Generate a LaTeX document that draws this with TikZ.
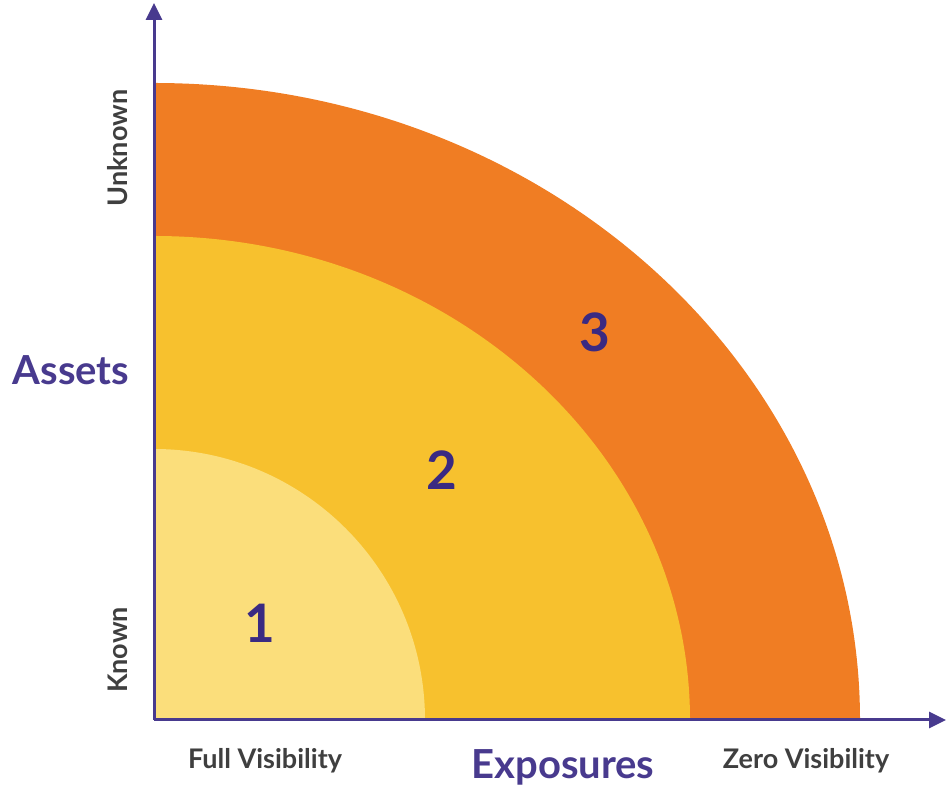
\documentclass[tikz,border=0pt]{standalone}
\usepackage{fontspec}
\setmainfont{Lato}
\usetikzlibrary{arrows.meta}

\definecolor{axispurple}{HTML}{483A8E}
\definecolor{numpurple}{HTML}{3A2A82}
\definecolor{labelgray}{HTML}{3F3F3F}
\definecolor{zoneone}{HTML}{FBDE7B}
\definecolor{zonetwo}{HTML}{F7C12E}
\definecolor{zonethree}{HTML}{F07D23}

\begin{document}
\begin{tikzpicture}[x=1pt,y=1pt,
    axis/.style={draw=axispurple,line width=3pt,-{Triangle[length=17pt,width=16pt]}},
    endlabel/.style={font=\fontsize{27}{31}\selectfont\bfseries,text=labelgray,inner sep=0pt,anchor=base},
    axislabel/.style={font=\fontsize{40}{46}\selectfont\bfseries,text=axispurple,inner sep=0pt,anchor=base},
    zonelabel/.style={font=\fontsize{53}{60}\selectfont\bfseries,text=numpurple,inner sep=0pt,anchor=base}]
   \useasboundingbox (0,0) rectangle (947,789);
   \coordinate (O) at (154,69);
   \coordinate (xend) at (946,69);
   \coordinate (yend) at (154,786);
   % the three zones
   \fill[zonethree] (O) -- ++(706,0) arc[start angle=0,end angle=90,x radius=706,y radius=637] -- cycle;
   \fill[zonetwo] (O) -- ++(536,0) arc[start angle=0,end angle=90,x radius=536,y radius=484] -- cycle;
   \fill[zoneone] (O) -- ++(271,0) arc[start angle=0,end angle=90,radius=271] -- cycle;
   \node[zonelabel] (z1) at (260,146) {1};
   \node[zonelabel] (z2) at (442,299) {2};
   \node[zonelabel] (z3) at (595,437) {3};
   % axes
   \draw[axis] (O) -- (xend);
   \draw[axis] (O) -- (yend);
   \node[endlabel,rotate=90] (known) at (127,139) {Known};
   \node[endlabel,rotate=90] (unknown) at (127,641) {Unknown};
   \node[axislabel] (assets) at (71,404) {Assets};
   \node[endlabel] (full) at (265,20) {Full Visibility};
   \node[axislabel] (exposures) at (563,10) {Exposures};
   \node[endlabel] (zero) at (806,20) {Zero Visibility};
\end{tikzpicture}
\end{document}
